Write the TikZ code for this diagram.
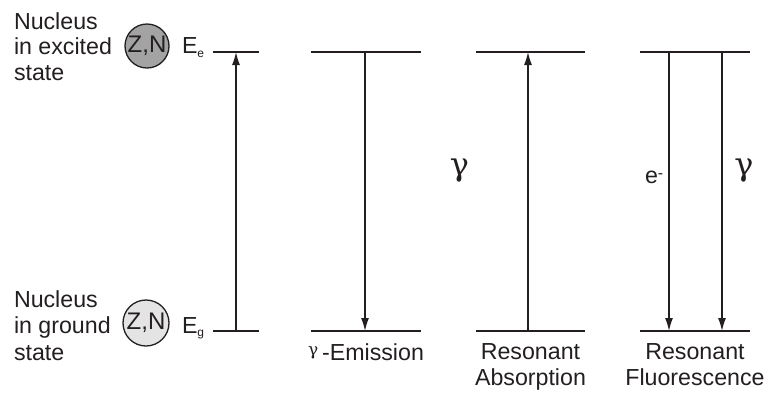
\documentclass[tikz,border=0pt]{standalone}
\usepackage{fontspec}
\setmainfont{Liberation Sans}
\newfontfamily\grk{DejaVu Serif}
\usetikzlibrary{arrows.meta}
\definecolor{ink}{HTML}{231F20}
\definecolor{exfill}{HTML}{A3A3A3}
\definecolor{gdfill}{HTML}{E4E4E4}
\begin{document}
\begin{tikzpicture}[x=1pt,y=-1pt,
  level/.style={line width=1.4pt, draw=ink},
  trans/.style={line width=1.3pt, draw=ink, -{Latex[length=13pt,width=8pt]}},
  txt/.style={font=\fontsize{23.2}{26}\selectfont, text=ink, inner sep=0pt, outer sep=0pt},
  nuc/.style={circle, draw=ink, line width=1.3pt, minimum size=44pt, inner sep=0pt,
              font=\fontsize{24}{24}\selectfont, text=ink},
  biggamma/.style={font=\fontsize{32}{32}\grk, text=ink, inner sep=0pt}
]
\useasboundingbox (0,0) rectangle (772,392);

% level end points
\coordinate (t1L) at (213,52); \coordinate (t1R) at (259,52);
\coordinate (b1L) at (213,331); \coordinate (b1R) at (259,331);
\coordinate (t2L) at (311,52); \coordinate (t2R) at (421,52);
\coordinate (b2L) at (311,331); \coordinate (b2R) at (421,331);
\coordinate (t3L) at (476,52); \coordinate (t3R) at (585,52);
\coordinate (b3L) at (476,331); \coordinate (b3R) at (585,331);
\coordinate (t4L) at (640,52); \coordinate (t4R) at (750,52);
\coordinate (b4L) at (640,331); \coordinate (b4R) at (750,331);

\foreach \c in {1,2,3,4} {
  \draw[level] (t\c L) -- (t\c R);
  \draw[level] (b\c L) -- (b\c R);
}

% arrow end points
\coordinate (a1t) at (236,52);  \coordinate (a1b) at (236,331);
\coordinate (a2t) at (365,52);  \coordinate (a2b) at (365,331);
\coordinate (a3t) at (528,52);  \coordinate (a3b) at (528,331);
\coordinate (a4t) at (669,52);  \coordinate (a4b) at (669,331);
\coordinate (a5t) at (722,52);  \coordinate (a5b) at (722,331);

\draw[trans] (a1b) -- (a1t);
\draw[trans] (a2t) -- (a2b);
\draw[trans] (a3b) -- (a3t);
\draw[trans] (a4t) -- (a4b);
\draw[trans] (a5t) -- (a5b);

% left side labels
\node[txt, anchor=north west, align=left, font=\fontsize{23.2}{25.5}\selectfont] (exlbl) at (14,12.5)
  {Nucleus\\in excited\\state};
\node[txt, anchor=north west, align=left, font=\fontsize{23.2}{26.5}\selectfont] (gdlbl) at (14,290.5)
  {Nucleus\\in ground\\state};

\node[nuc, fill=exfill] (exnuc) at (147,46) {Z,N};
\node[nuc, fill=gdfill, minimum size=46pt] (gdnuc) at (146,323) {Z,N};

\node[txt, anchor=base west] (Ee) at (182,53) {E\raisebox{-4pt}{\fontsize{12}{12}\selectfont e}};
\node[txt, anchor=base west] (Eg) at (182,333) {E\raisebox{-3pt}{\fontsize{12}{12}\selectfont g}};

% transition labels
\node[biggamma] (g1) at (459.5,170.5) {γ};
\node[txt, anchor=base west] (el) at (645,183) {e\raisebox{5pt}{\fontsize{16}{16}\selectfont -}};
\node[biggamma] (g2) at (744,170.5) {γ};

% bottom labels
\node[txt, anchor=north, align=center] (lem) at (366,343.5)
  {\raisebox{5pt}{\fontsize{17}{17}\grk γ}\,-Emission};
\node[txt, anchor=north, align=center] (lab) at (530.5,343.5) {Resonant\\Absorption};
\node[txt, anchor=north, align=center] (lfl) at (695,343.5) {Resonant\\Fluorescence};
\end{tikzpicture}
\end{document}
